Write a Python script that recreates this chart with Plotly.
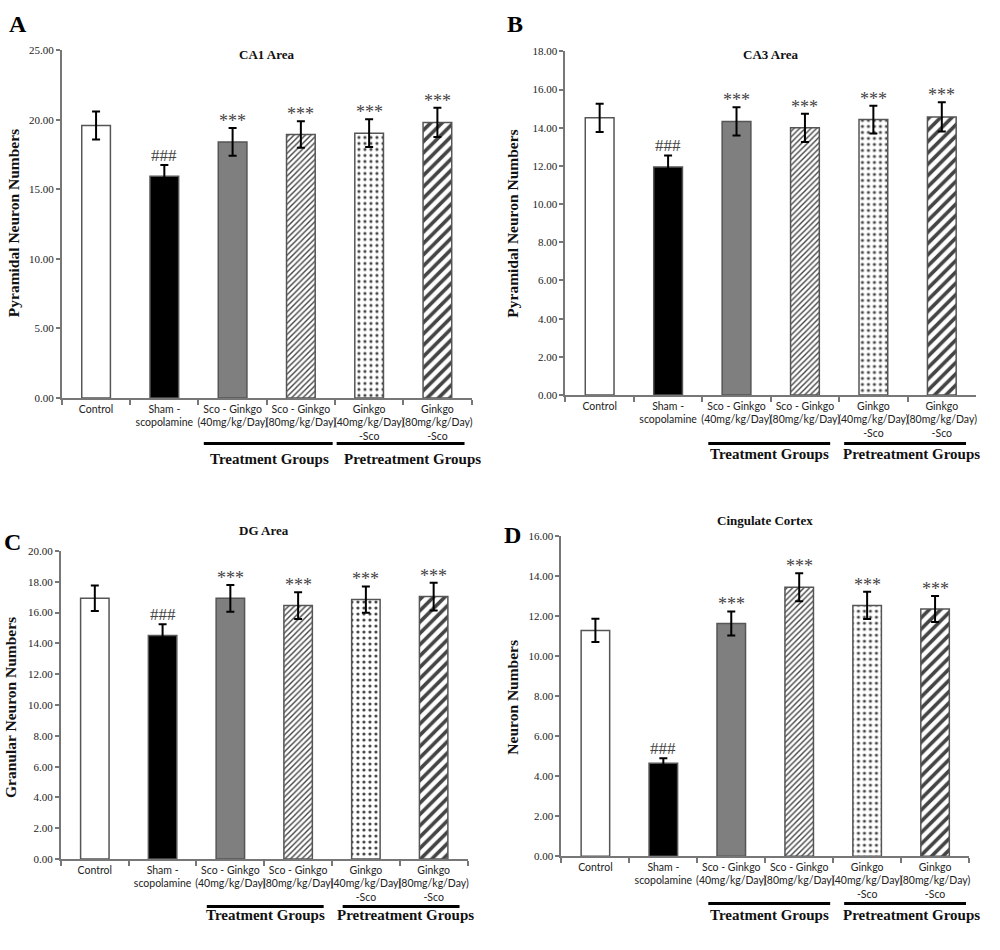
import plotly.graph_objects as go

categories = ["Control", "Sham -<br>scopolamine", "Sco - Ginkgo<br>(40mg/kg/Day)",
              "Sco - Ginkgo<br>(80mg/kg/Day)", "Ginkgo<br>(40mg/kg/Day)<br>-Sco",
              "Ginkgo<br>(80mg/kg/Day)<br>-Sco"]
marks = ["", "###", "***", "***", "***", "***"]

ca1_mean = [19.6, 15.95, 18.42, 18.95, 19.05, 19.82]
ca1_err = [1.0, 0.8, 1.0, 0.95, 1.0, 1.05]
ca3_mean = [14.52, 11.95, 14.33, 14.0, 14.43, 14.57]
ca3_err = [0.74, 0.6, 0.74, 0.74, 0.73, 0.77]
dg_mean = [16.93, 14.51, 16.93, 16.46, 16.85, 17.04]
dg_err = [0.83, 0.73, 0.87, 0.87, 0.85, 0.9]
cc_mean = [11.29, 4.65, 11.64, 13.45, 12.54, 12.36]
cc_err = [0.58, 0.25, 0.6, 0.7, 0.68, 0.65]

y_ranges = [25, 18, 20, 16]
y_dticks = [5, 2, 2, 2]
titles = ["CA1 Area", "CA3 Area", "DG Area", "Cingulate Cortex"]
y_titles = ["Pyramidal Neuron Numbers", "Pyramidal Neuron Numbers",
            "Granular Neuron Numbers", "Neuron Numbers"]

W, H = 1000, 950
# panel plot-area pixel boxes: (left, right, top, bottom)
boxes = [(62, 472, 45, 397), (566, 977, 46, 394), (61, 468, 552, 864), (562, 970, 537, 861)]
title_y = [49, 49, 531, 521]
ytitle_pos = [(13, 220), (513, 220), (10, 710), (513, 700)]

bar_colors = ["white", "black", "#7f7f7f", "white", "white", "white"]
pat_shape = ["", "", "", "/", ".", "/"]
pat_fg = ["#000", "#000", "#000", "#6a6a6a", "#808080", "#000"]
pat_size = [8, 8, 8, 4, 6, 8]
pat_sol = [0.3, 0.3, 0.3, 0.35, 0.22, 0.45]

serif = "Liberation Serif"
sans = "Lato"

fig = go.Figure()
datasets = [(ca1_mean, ca1_err), (ca3_mean, ca3_err), (dg_mean, dg_err), (cc_mean, cc_err)]
annotations = []
shapes = []
layout = {}

for i, (means, errs) in enumerate(datasets):
    sfx = "" if i == 0 else str(i + 1)
    fig.add_trace(go.Bar(
        x=categories, y=means, width=0.42,
        xaxis="x" + sfx, yaxis="y" + sfx,
        marker=dict(color=bar_colors, line=dict(color="#555", width=1.5),
                    pattern=dict(shape=pat_shape, fgcolor=pat_fg, fgopacity=1,
                                 size=pat_size, solidity=pat_sol, fillmode="overlay")),
        error_y=dict(type="data", array=errs, color="black", thickness=2, width=4),
        showlegend=False, hoverinfo="skip",
    ))
    l, r, t, b = boxes[i]
    layout["xaxis" + sfx] = dict(
        domain=[l / W, r / W], anchor="y" + sfx, type="category",
        showline=True, linecolor="#777", linewidth=2, ticks="outside", ticklen=5,
        tickcolor="#777", tickwidth=1.5, tickson="boundaries", showgrid=False,
        tickangle=0, tickfont=dict(family=sans, size=10.5, color="#222"), range=[-0.5, 5.5])
    layout["yaxis" + sfx] = dict(
        domain=[1 - b / H, 1 - t / H], anchor="x" + sfx, range=[0, y_ranges[i]],
        dtick=y_dticks[i], tickformat=".2f", showline=True, linecolor="#777",
        linewidth=2, ticks="outside", ticklen=4, tickcolor="#777", tickwidth=1.5,
        showgrid=False, zeroline=False,
        tickfont=dict(family=serif, size=11, color="#222"))
    # significance marks
    for j, m in enumerate(marks):
        if m:
            annotations.append(dict(
                x=categories[j], y=means[j] + errs[j], xref="x" + sfx, yref="y" + sfx,
                text=m, showarrow=False, xanchor="center", yanchor="bottom",
                yshift=-2 if m == "###" else -5,
                font=dict(family=serif, size=17 if m == "###" else 18, color="#444")))
    # panel title
    annotations.append(dict(x=(l + r) / 2 / W, y=1 - title_y[i] / H,
                            xref="paper", yref="paper", text="<b>" + titles[i] + "</b>",
                            showarrow=False, xanchor="center", yanchor="middle",
                            font=dict(family=serif, size=13, color="#111")))
    # y title
    yx, yy = ytitle_pos[i]
    annotations.append(dict(x=yx / W, y=1 - yy / H, xref="paper", yref="paper",
                            text="<b>" + y_titles[i] + "</b>", textangle=-90, showarrow=False,
                            xanchor="center", yanchor="middle",
                            font=dict(family=serif, size=15.5, color="#111")))

# panel letters
for txt, px, py in [("A", 18, 18), ("B", 516, 18), ("C", 13, 543), ("D", 513, 536)]:
    annotations.append(dict(x=px / W, y=1 - py / H, xref="paper", yref="paper",
                            text="<b>" + txt + "</b>", showarrow=False,
                            xanchor="center", yanchor="middle",
                            font=dict(family=serif, size=24, color="#000")))

# group bars and labels: line y, label y, treatment line, pretreatment line, label centers
groups = [
    (443, 459, (204, 333), (337, 465), (270, 413)),
    (443, 454, (709, 831), (845, 967), (770, 912)),
    (912, 921, (207, 324), (343, 460), (266, 406)),
    (909, 921, (709, 831), (845, 967), (770, 912)),
]
for ly, ty, tr, pr, (tc, pc) in groups:
    for (x0, x1), lab, cx in [(tr, "Treatment Groups", tc), (pr, "Pretreatment Groups", pc)]:
        shapes.append(dict(type="line", xref="paper", yref="paper", x0=x0 / W, x1=x1 / W,
                           y0=1 - ly / H, y1=1 - ly / H, line=dict(color="black", width=3)))
        annotations.append(dict(x=cx / W, y=1 - ty / H, xref="paper",
                                yref="paper", text="<b>" + lab + "</b>", showarrow=False,
                                xanchor="center", yanchor="middle",
                                font=dict(family=serif, size=15, color="#111")))

fig.update_layout(width=W, height=H, margin=dict(l=0, r=0, t=0, b=0),
                  paper_bgcolor="white", plot_bgcolor="white",
                  annotations=annotations, shapes=shapes, **layout)
fig.write_html("out.html")
